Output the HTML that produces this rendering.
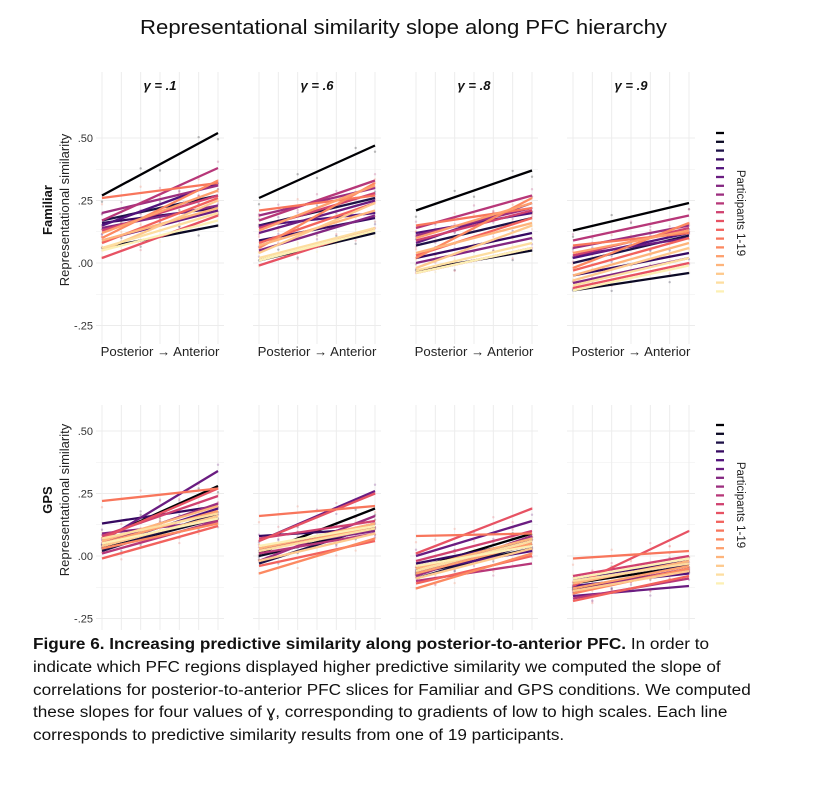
<!DOCTYPE html>
<html><head><meta charset="utf-8">
<style>
body{margin:0;width:813px;height:786px;background:#fff;overflow:hidden;font-family:"Liberation Sans",Arial,sans-serif;}
#cap{position:absolute;left:33px;top:634px;font-size:15.5px;line-height:22.8px;color:#111;white-space:nowrap;transform:scaleX(1.107);transform-origin:0 0;}
</style></head><body>
<svg id="chart" width="813" height="630" style="position:absolute;left:0;top:0" font-family="Liberation Sans, Arial, sans-serif"></svg>
<div id="cap"><b>Figure 6. Increasing predictive similarity along posterior-to-anterior PFC.</b> In order to<br>indicate which PFC regions displayed higher predictive similarity we computed the slope of<br>correlations for posterior-to-anterior PFC slices for Familiar and GPS conditions. We computed<br>these slopes for four values of &#611;, corresponding to gradients of low to high scales. Each line<br>corresponds to predictive similarity results from one of 19 participants.</div>
<script>
const gammas=['γ = .1','γ = .6','γ = .8','γ = .9'];
const conditions=['Familiar','GPS'];
const yTicks=[0.5,0.25,0,-0.25];
const yTickLabels=['.50','.25','.00','-.25'];
const colors=['#000004','#0b0924','#1d1147','#360961','#51127c','#6a1c81','#832681','#9c2e7f','#b73779','#d0416f','#e75263','#f2625d','#f8765c','#fc8961','#fe9f6d','#feb47b','#fec98d','#fddea0','#fcf0b5'];
// start/end values per panel (19 participants each)
const famStart1=[0.27,0.06,0.17,0.16,0.15,0.09,0.14,0.20,0.17,0.13,0.02,0.08,0.26,0.10,0.12,0.09,0.05,0.06,0.05];
const famEnd1=[0.52,0.15,0.27,0.22,0.32,0.21,0.23,0.31,0.38,0.27,0.19,0.26,0.32,0.33,0.29,0.22,0.25,0.20,0.17];
const famStart2=[0.26,0.01,0.15,0.09,0.15,0.12,0.05,0.19,0.17,0.14,-0.01,0.08,0.21,0.06,0.13,0.07,0.04,0.02,0.01];
const famEnd2=[0.47,0.12,0.26,0.18,0.20,0.25,0.19,0.30,0.33,0.28,0.14,0.24,0.27,0.32,0.31,0.21,0.24,0.14,0.13];
const famStart3=[0.21,-0.03,0.07,0.02,0.12,0.08,0.00,0.11,0.14,0.09,-0.04,0.03,0.15,0.02,0.10,0.04,-0.02,-0.03,-0.04];
const famEnd3=[0.37,0.05,0.18,0.12,0.20,0.24,0.10,0.22,0.27,0.21,0.06,0.18,0.22,0.26,0.24,0.16,0.15,0.08,0.06];
const famStart4=[0.13,-0.11,0.00,-0.05,0.02,0.03,-0.08,0.06,0.09,0.03,-0.10,-0.03,0.07,-0.02,0.04,-0.05,-0.07,-0.09,-0.11];
const famEnd4=[0.24,-0.04,0.11,0.04,0.12,0.10,0.02,0.15,0.19,0.14,0.00,0.10,0.12,0.16,0.13,0.08,0.06,0.02,-0.01];
const gpsStart1=[0.07,0.03,0.02,0.13,0.04,0.06,0.09,0.05,0.01,0.08,0.07,-0.01,0.22,0.03,0.05,0.06,0.04,0.07,0.05];
const gpsEnd1=[0.28,0.15,0.17,0.20,0.19,0.34,0.14,0.21,0.14,0.24,0.27,0.12,0.27,0.13,0.18,0.20,0.16,0.17,0.15];
const gpsStart2=[0.01,0.00,-0.03,0.08,0.02,0.06,0.03,-0.02,0.01,0.07,0.06,-0.04,0.16,-0.07,0.02,0.03,-0.02,0.02,0.04];
const gpsEnd2=[0.19,0.11,0.12,0.11,0.13,0.26,0.10,0.16,0.09,0.14,0.25,0.06,0.20,0.07,0.12,0.13,0.09,0.11,0.12];
const gpsStart3=[-0.05,-0.07,-0.09,-0.03,-0.06,0.00,-0.04,-0.08,-0.10,-0.02,0.01,-0.11,0.08,-0.13,-0.07,-0.05,-0.09,-0.06,-0.04];
const gpsEnd3=[0.09,0.03,0.05,0.06,0.02,0.14,0.04,0.08,-0.03,0.10,0.19,0.00,0.09,0.01,0.05,0.07,0.03,0.06,0.04];
const gpsStart4=[-0.11,-0.13,-0.15,-0.09,-0.12,-0.16,-0.10,-0.14,-0.17,-0.08,-0.12,-0.18,-0.01,-0.15,-0.13,-0.11,-0.14,-0.10,-0.09];
const gpsEnd4=[-0.04,-0.06,-0.03,-0.02,-0.07,-0.12,-0.03,-0.05,-0.09,0.00,0.10,-0.08,0.02,-0.05,-0.04,-0.02,-0.06,-0.03,-0.01];
const starts=[[famStart1,famStart2,famStart3,famStart4],[gpsStart1,gpsStart2,gpsStart3,gpsStart4]];
const ends=[[famEnd1,famEnd2,famEnd3,famEnd4],[gpsEnd1,gpsEnd2,gpsEnd3,gpsEnd4]];

const NS='http://www.w3.org/2000/svg';
const svg=document.getElementById('chart');
function mk(tag,attrs,parent){const e=document.createElementNS(NS,tag);for(const k in attrs)e.setAttribute(k,attrs[k]);(parent||svg).appendChild(e);return e;}
const colX=[102,259,416,573], pw=116;
const zeroY=[263,556], unit=250;
function yS(r,v){return zeroY[r]-v*unit;}
function xS(c,t){return colX[c]+t*pw;}

let t=mk('text',{x:140,y:34,'font-size':20.5,fill:'#111',textLength:527,lengthAdjust:'spacingAndGlyphs'});

t.textContent='Representational similarity slope along PFC hierarchy';

for(let r=0;r<2;r++){
  const g=mk('g',{});
  
  
  const cy=r===0?210:500;
  let a=mk('text',{x:52,y:cy,'text-anchor':'middle','font-size':13,'font-weight':'bold',fill:'#111',transform:`rotate(-90 52 ${cy})`},g);
  a.textContent=conditions[r];
  a=mk('text',{x:69,y:cy,'text-anchor':'middle','font-size':13,fill:'#222',transform:`rotate(-90 69 ${cy})`},g);
  a.textContent='Representational similarity';
  yTicks.forEach((v,i)=>{const l=mk('text',{x:93,y:yS(r,v)+4,'text-anchor':'end','font-size':11,fill:'#333'},g);
    l.textContent=yTickLabels[i];});
  for(let c=0;c<4;c++){
    const p=mk('g',{},g);
    
    
    const top=r===0?72:405, bot=yS(r,-0.3);
    for(let k=-0.25;k<=0.6;k+=0.125){mk('line',{x1:colX[c]-6,x2:colX[c]+pw+6,y1:yS(r,k),y2:yS(r,k),stroke:'#ececec','stroke-width':Math.abs(k*4-Math.round(k*4))<0.01?1:0.6},p);}
    for(let i=0;i<7;i++){mk('line',{x1:xS(c,i/6),x2:xS(c,i/6),y1:top,y2:bot+6,stroke:'#ececec','stroke-width':1},p);}
    for(let j=0;j<19;j++){
      const s=starts[r][c][j], e=ends[r][c][j];
      for(let i=0;i<7;i++){const v=s+(e-s)*i/6+((i+j)%3-1)*0.025;
        const d=mk('circle',{cx:xS(c,i/6),cy:yS(r,v),r:1.2,fill:colors[j],opacity:0.25},p);
        }
    }
    for(let j=0;j<19;j++){
      const ln=mk('line',{x1:xS(c,0),y1:yS(r,starts[r][c][j]),x2:xS(c,1),y2:yS(r,ends[r][c][j]),stroke:colors[j],'stroke-width':2.3},p);
      
    }
    if(r===0){
      const h=mk('text',{x:colX[c]+pw/2,y:90,'text-anchor':'middle','font-size':13,'font-weight':'bold','font-style':'italic',fill:'#111'},p);
      h.textContent=gammas[c];
      const xl=mk('text',{x:colX[c]+pw/2,y:356,'text-anchor':'middle','font-size':13.2,fill:'#222'},p);
      xl.textContent='Posterior → Anterior';
    }
  }
  const lg=mk('g',{},g);
  
  const ly0=r===0?133:425;
  for(let j=0;j<19;j++){const k=mk('line',{x1:716,x2:724,y1:ly0+j*8.8,y2:ly0+j*8.8,stroke:colors[j],'stroke-width':2.3},lg);
    }
  const lt=ly0+80;
  const tx=mk('text',{x:737,y:lt,'text-anchor':'middle','font-size':11.5,fill:'#222',transform:`rotate(90 737 ${lt})`},lg);
  tx.textContent='Participants 1-19';
}
</script>
</body></html>
